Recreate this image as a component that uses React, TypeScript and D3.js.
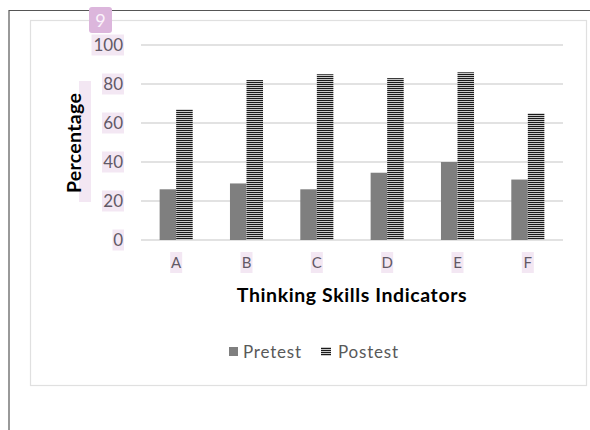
import { useRef, useEffect } from 'react';
import * as d3 from 'd3';

const categories = ['A', 'B', 'C', 'D', 'E', 'F'];
const pretest = [26, 29, 26, 34.5, 40, 31];
const postest = [67, 82, 85, 83, 86, 65];
const yTicks = [0, 20, 40, 60, 80, 100];

const FONT = 'Lato, "Open Sans", sans-serif';
const HILITE = '#f3e7f3';

export default function App() {
  const svgRef = useRef<SVGSVGElement>(null);

  useEffect(() => {
    const svg = d3.select(svgRef.current);
    svg.selectAll('*').remove();

    const width = 590;
    const height = 430;
    const plot = { left: 141, right: 563, top: 45, bottom: 240 };

    svg.attr('width', width).attr('height', height);

    // stripe pattern for postest
    const defs = svg.append('defs');
    const pat = defs.append('pattern')
      .attr('id', 'stripes').attr('patternUnits', 'userSpaceOnUse')
      .attr('width', 8).attr('height', 2);
    pat.append('rect').attr('width', 8).attr('height', 2).attr('fill', '#c8c8c8');
    pat.append('rect').attr('width', 8).attr('height', 1).attr('fill', '#1a1a1a');

    // page edges
    svg.append('line').attr('x1', 9).attr('y1', 10.5).attr('x2', width).attr('y2', 10.5)
      .attr('stroke', '#555').attr('stroke-width', 1.2);
    svg.append('line').attr('x1', 9).attr('y1', 10).attr('x2', 9).attr('y2', height)
      .attr('stroke', '#555').attr('stroke-width', 1.2);

    // chart frame
    svg.append('rect').attr('x', 30.5).attr('y', 20.5).attr('width', 556).attr('height', 365)
      .attr('fill', '#fff').attr('stroke', '#e0e0e0').attr('stroke-width', 1.2);

    const x0 = d3.scaleBand().domain(categories).range([plot.left, plot.right]).paddingInner(0.53).paddingOuter(0.265);
    const x1 = d3.scaleBand().domain(['pre', 'post']).range([0, x0.bandwidth()]);
    const y = d3.scaleLinear().domain([0, 100]).range([plot.bottom, plot.top]);

    // gridlines
    yTicks.forEach(t => {
      svg.append('line').attr('x1', plot.left).attr('x2', plot.right)
        .attr('y1', y(t)).attr('y2', y(t))
        .attr('stroke', '#d9d9d9').attr('stroke-width', 1.3);
    });

    // y tick labels with highlight boxes
    yTicks.forEach(t => {
      const w = String(t).length * 10.5 + 1;
      svg.append('rect').attr('x', 124 - w).attr('y', y(t) - 10.5)
        .attr('width', w).attr('height', 21).attr('fill', HILITE);
      svg.append('text').attr('x', 123).attr('y', y(t) + 6)
        .attr('text-anchor', 'end').attr('fill', '#625966')
        .attr('font-family', FONT).attr('font-size', 17).text(t);
    });

    // bars
    categories.forEach((c, i) => {
      const gx = x0(c)!;
      svg.append('rect').attr('x', gx + x1('pre')!).attr('y', y(pretest[i]))
        .attr('width', x1.bandwidth()).attr('height', y(0) - y(pretest[i]))
        .attr('fill', '#7f7f7f');
      svg.append('rect').attr('x', gx + x1('post')!).attr('y', y(postest[i]))
        .attr('width', x1.bandwidth()).attr('height', y(0) - y(postest[i]))
        .attr('fill', 'url(#stripes)');
    });

    // x tick labels
    categories.forEach(c => {
      const cx = x0(c)! + x0.bandwidth() / 2;
      svg.append('rect').attr('x', cx - 6).attr('y', 252).attr('width', 12).attr('height', 21)
        .attr('fill', HILITE);
      svg.append('text').attr('x', cx).attr('y', 268)
        .attr('text-anchor', 'middle').attr('fill', '#625966')
        .attr('font-family', FONT).attr('font-size', 15).text(c);
    });

    // axis titles
    svg.append('text').attr('x', 352).attr('y', 302)
      .attr('text-anchor', 'middle').attr('font-family', FONT)
      .attr('font-weight', 'bold').attr('font-size', 19.5).attr('letter-spacing', 0.6)
      .attr('fill', '#000')
      .text('Thinking Skills Indicators');

    svg.append('rect').attr('x', 79).attr('y', 81).attr('width', 12).attr('height', 121)
      .attr('fill', HILITE);
    svg.append('text').attr('transform', 'translate(81,143) rotate(-90)')
      .attr('text-anchor', 'middle').attr('font-family', FONT)
      .attr('font-weight', 'bold').attr('font-size', 19.5).attr('letter-spacing', 0.3)
      .attr('fill', '#000')
      .text('Percentage');

    // "9" badge
    svg.append('rect').attr('x', 89).attr('y', 7).attr('width', 23).attr('height', 26)
      .attr('rx', 3).attr('fill', '#dcb6dc');
    svg.append('text').attr('x', 100.5).attr('y', 27)
      .attr('text-anchor', 'middle').attr('font-family', FONT)
      .attr('font-size', 18).attr('fill', '#fbf3fb').text('9');

    // legend
    const ly = 352;
    svg.append('rect').attr('x', 229).attr('y', ly - 5).attr('width', 9).attr('height', 9)
      .attr('fill', '#7f7f7f');
    svg.append('text').attr('x', 243).attr('y', ly + 6).attr('font-family', FONT)
      .attr('font-size', 17).attr('letter-spacing', 0.8).attr('fill', '#595959').text('Pretest');
    svg.append('rect').attr('x', 321).attr('y', ly - 5).attr('width', 10).attr('height', 9)
      .attr('fill', 'url(#stripes)');
    svg.append('text').attr('x', 338).attr('y', ly + 6).attr('font-family', FONT)
      .attr('font-size', 17).attr('letter-spacing', 0.8).attr('fill', '#595959').text('Postest');
  }, []);

  return (
    <div style={{ position: 'absolute', left: 0, top: 0 }}>
      <svg ref={svgRef} style={{ display: 'block' }} />
    </div>
  );
}
